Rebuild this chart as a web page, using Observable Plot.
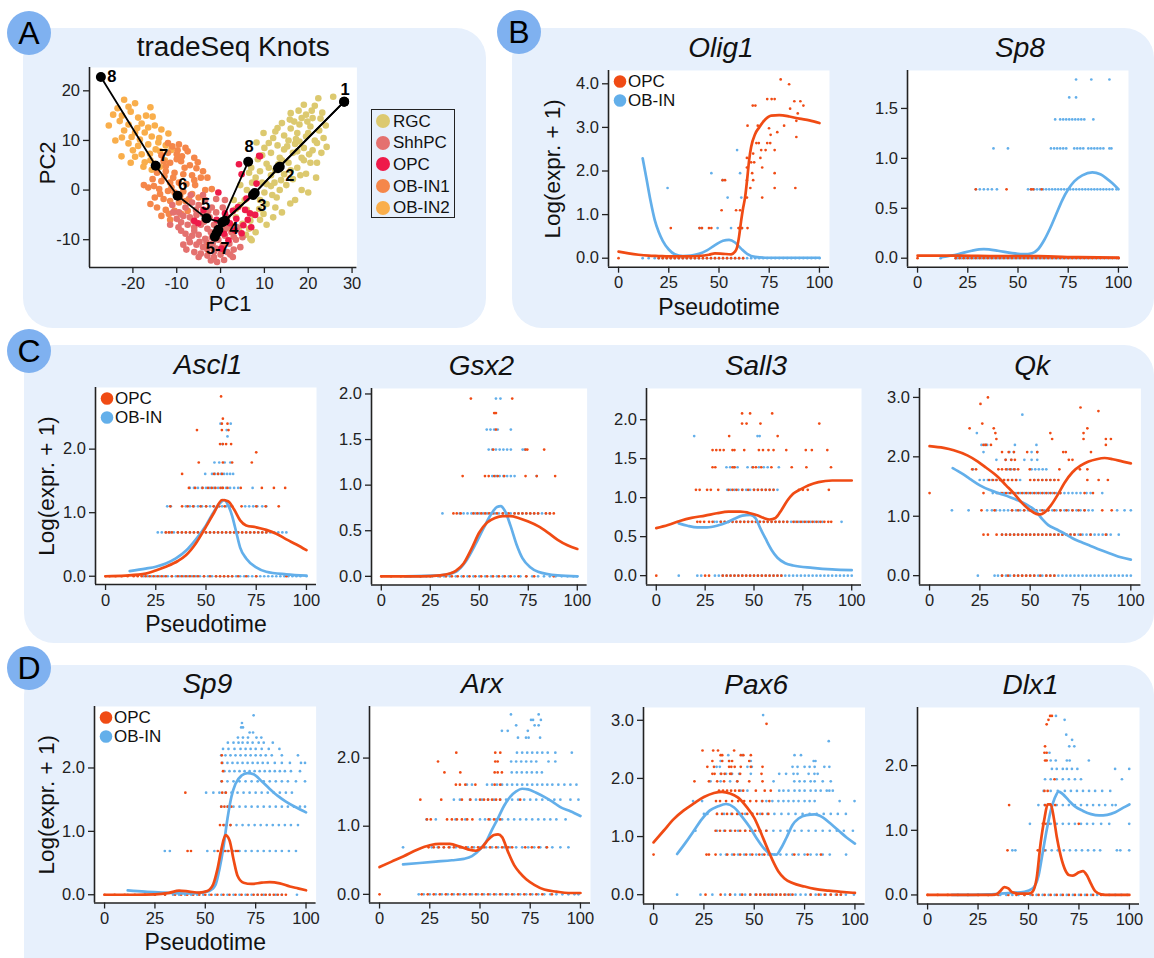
<!DOCTYPE html>
<html><head><meta charset="utf-8">
<script src="https://cdn.jsdelivr.net/npm/d3@7"></script>
<script src="https://cdn.jsdelivr.net/npm/@observablehq/plot@0.6"></script>
<style>
body{margin:0;background:#fff;font-family:"Liberation Sans",Arial,Helvetica,sans-serif;}
#root{position:relative;width:1154px;height:958px;overflow:hidden;background:#fff;}
.panel{position:absolute;background:#e7f0fc;border-radius:30px;}
.badge{position:absolute;width:44px;height:44px;border-radius:50%;background:#7fb1f0;color:#000;font-size:32px;text-align:center;line-height:45px;}
.legA{position:absolute;border:1.5px solid #222;box-sizing:border-box;}
.legA div{position:absolute;left:21px;font-size:17px;line-height:17px;color:#111;white-space:nowrap;}
.legA span{position:absolute;left:-17px;top:1.5px;width:14px;height:14px;border-radius:50%;}
</style></head><body><div id="root"></div><script>
const FONT = '"Liberation Sans", Arial, Helvetica, sans-serif';
const RED = "#F04B14", BLUE = "#63AFEA", INK = "#111", AX = "#222";

// ---------- Panel A: PCA with tradeSeq knots ----------
const cellTypes = ["RGC","ShhPC","OPC","OB-IN1","OB-IN2"];
const cellColors = ["#DCC96F","#E4716F","#EE1A4A","#F5874A","#F9AE4B"];
const pcaOBIN2 = [[-22,18.2],[-19.5,17.5],[-16,16.7],[-24.5,15.2],[-22.5,15],[-20.5,15.8],[-18.8,14.6],[-23,13.9],[-21,13.2],[-18,13.4],[-16.5,12.6],[-15,13],[-22,12],[-19.5,11.6],[-17.3,11.6],[-13.5,12.2],[-22.5,10.6],[-20.3,10.7],[-18.4,10.2],[-15.7,10.8],[-11.9,11.4],[-21,9.4],[-18.8,8.9],[-16.5,9.2],[-14.2,9.6],[-18,7.2],[-16.1,7.3],[-13.8,7.8],[-19.5,6.7],[-22.6,6.8],[-17.3,5.6],[-15,5.3],[-12.7,6],[-11.2,8.1],[-17.6,4.7],[-15.7,4.1],[-13.8,4.7],[-24,10],[-20,8],[-23.5,16.5],[-17,15],[-14,10.5],[-16,6],[-19,12.5],[-21,16.8],[-15.5,14.8],[-25.5,13],[-12.5,9],[-14.8,8.2],[-20.5,5.5]];
const pcaOBIN1 = [[-11,8.8],[-9.5,9.2],[-8,8.5],[-12,7.5],[-10,7.2],[-7.5,7.8],[-6,6.5],[-13,5.8],[-11.5,5.5],[-9,5.8],[-7,5],[-5.5,4.4],[-14.5,3.5],[-12.5,3.8],[-10.5,3.5],[-8.5,3.2],[-6.5,3],[-4.5,2.5],[-15.5,2.2],[-13.5,1.8],[-11.5,1.5],[-9.5,1.5],[-7.8,1.2],[-5.8,1],[-16.5,0.5],[-14,0.2],[-12,-0.2],[-10.5,-0.5],[-8.5,-0.3],[-6.5,-0.8],[-15,-1.5],[-13,-1.8],[-11.5,-2.2],[-9.5,-2.5],[-14.5,-3.5],[-12.5,-4],[-10.5,-4.2],[-13.5,-5.2],[-11.5,-6],[-3.5,0],[-2,0.2],[-16,-2.8],[-12,9.5],[-8.8,6.8],[-10.8,2.5],[-7.2,-1.8],[-9,-4.8],[-5,-1.5],[-13.5,7],[-17.5,1],[-4,3.8],[-10,6.2],[-8.2,4.5],[-12.5,4.8],[-6,2],[-11.2,0.5],[-9.2,-1.2],[-13.8,-0.8],[-7.5,-4.2],[-11.8,-4.8],[-15.2,0.8],[-5.2,5.6],[-9.8,8],[-3,2.5],[-8,-2.2],[-12.8,2.8]];
const pcaRGC = [[22.3,18.5],[25.7,18.8],[19.5,15.2],[21,14.5],[18,13.2],[20.5,12.8],[22.5,12],[16,12.4],[17.5,11.5],[19.5,10.8],[21.5,10],[24.2,8.7],[14.5,11],[15.5,10],[17,9.3],[19,8.5],[21,8],[23,7.5],[12,10.5],[13,9],[14.5,8.2],[16.5,7.5],[18.5,6.5],[20.5,5.5],[10,8.5],[11.5,7.5],[13.5,6.5],[15.5,5.5],[17.5,4.5],[19.5,3.3],[21.8,2.5],[8.5,6.2],[10.5,5.3],[12.5,4],[14.5,3.2],[16.5,2.2],[18.5,0],[20,-0.5],[6.5,3.5],[8,2.5],[9.5,1.5],[11.5,0.8],[13.5,0],[15.9,-2.7],[17,-2],[4.5,1],[6,0],[7.5,-1],[9,-2],[10.5,-2.8],[12.5,-3.5],[14,-4.5],[3,-2],[4.5,-3],[6,-4],[7.5,-5],[9,-6],[10.5,-7],[3.5,-5.5],[5,-6.8],[6.5,-7.8],[8,-8.5],[6.8,-9.8],[7.1,-10.1],[11.5,3],[13,12.5],[18.5,14.5],[16,15.5],[9.8,11.5],[17.2,10.3],[20,11.5],[23.5,10.5],[22,5.5],[12.3,1.5],[10,-0.5],[8.2,9.6],[14,6],[19,6],[15,1],[11,4.5],[17.5,7.8],[12.8,-1.5],[5.5,-2],[9,3.8],[16.8,13.8],[20.8,16],[22.8,14.4],[7,4.5],[9.5,7],[11,9.5],[12.5,11.8],[14,13.5],[15.8,14.2],[17.8,16],[19,17.2],[21.5,17],[23.2,15.6],[24,13],[22,9.5],[20.2,7.2],[18.2,3],[16,4],[13.8,2],[11.8,-1],[8.8,-3.8],[6.8,-6.2],[4.2,-8],[5.8,-9],[10.5,1.2],[13.2,5.2],[15.2,8.8],[18,9.8],[19.8,13.8],[7.2,1.5],[9.8,-4.8],[12,-5.5],[3.5,-3.8]];
const pcaShhPC = [[-11,-3],[-9.5,-4.5],[-8,-3.5],[-6.5,-2.5],[-5,-3],[-3.5,-2],[-2,-3.5],[-7,-5.5],[-5.5,-5],[-4,-4.8],[-2.5,-5.5],[-1,-4.5],[0.5,-3.5],[-9,-6.5],[-7.5,-7],[-6,-7.5],[-4.5,-7],[-3,-7.8],[-1.5,-7],[0,-6.5],[1.5,-5.5],[-8,-8.8],[-6.5,-9.2],[-5,-9],[-3.5,-9.8],[-2,-9.5],[-0.5,-10],[1,-9.2],[2.5,-8.5],[-7,-10.5],[-5.5,-11],[-4,-11.5],[-2.5,-11.2],[-1,-11.8],[0.5,-11.2],[2,-10.8],[3.5,-10],[-4.5,-12.8],[-3,-13.2],[-1.5,-13.5],[0,-13],[1.5,-12.5],[3,-12],[-2.2,-14.2],[0.8,-14.1],[2.8,-13.5],[-10,-5.8],[-11.5,-7],[-8.5,-11],[-6,-12.5],[4.5,-11.5],[5,-9.5],[-4,-1],[-1,-1.8],[1,-2],[2,-7.2],[3.8,-7.5],[-9,-8.2],[-6.8,-1],[-3,-12],[-5,-13.5],[-1.5,-12.4],[-8.5,-5.2],[-6.2,-6.2],[-3.8,-6.4],[-2.2,-8.5],[-4.8,-10.4],[-6,-8.2],[-7.8,-12],[-0.2,-8.2],[1.2,-7.8],[-1.8,-10.8],[-3.2,-10.5],[0.2,-12.2],[2.2,-13],[-0.8,-14.5],[-5.6,-4],[-2.8,-4.2],[-9.6,-7.5],[-10.8,-4.5],[-7.2,-9.8],[3,-9.4]];
const pcaOPC = [[9,6.8],[4.8,3.2],[8.2,1.3],[-0.5,-0.5],[5.9,-1.7],[4,-3.4],[1,-4.7],[-0.9,-6],[-6,-6.2],[-3.2,-5.7],[2.1,-6.7],[5.2,-7.1],[3.3,-8.1],[4.8,-8.7],[1.8,-10.1],[0.2,-11.8],[6.7,-4.7],[7.9,-5],[5.6,-4],[-3.9,-4],[-5.1,-6.7],[6.2,-6],[3.6,-5.8],[7,-7.5],[2.8,-4.2],[0.8,-8.8],[8.8,6.9],[4.2,5.2]];
const knotsOPC = [[28.2,17.8],[13.5,4.7],[7.8,-0.6],[1.0,-6.2],[-0.5,-8.0],[-0.9,-8.7],[-1.3,-9.4],[6.3,5.7]];
const knotsOBIN = [[28.2,17.8],[13.1,4.4],[7.4,-1.0],[0.4,-6.5],[-3.2,-5.7],[-9.8,-1.15],[-14.8,4.9],[-27.3,22.8]];
// label text, lineage, knot index, [dx,dy] offset in px
const knotLabels = [["1","OPC",0,[1,-12]],["2","OPC",1,[10,9]],["3","OPC",2,[7,13]],["4","OPC",3,[9,8]],["5-7","OPC",5,[1,15]],["8","OPC",7,[1,-15]],["5","OBIN",4,[-1,-14]],["6","OBIN",5,[5,-11]],["7","OBIN",6,[8,-10]],["8","OBIN",7,[11,0]]];
const pcaXTicks = [-20,-10,0,10,20,30], pcaYTicks = [-10,0,10,20];

// ---------- Gene panels: points as [log level, [pseudotimes]] ; curves as [pseudotime, value] ----------
const X_TICKS = [0,25,50,75,100];
const XDOM = [-5,105];

const olig1OPC = [[0,[0,20,22,24,26,28,30,32,34,36,38,40,42,44,46,48,50,52,54,56,58,60,62]],[0.69,[26,40.3,41.5,45,46.2,59.7,61.4,64.2]],[1.1,[51.3,58.5,60.5]],[1.39,[63.9,71.5]],[1.61,[65.6,77.7,88]],[1.79,[51.8,53,63.9,67]],[1.95,[66.5,77.7]],[2.08,[63.9,71.5]],[2.2,[66,67.5]],[2.3,[63.9,70.6]],[2.4,[67]],[2.48,[71,73.2,77.7]],[2.64,[68.6,69.8,74,75.5]],[2.78,[88.5]],[2.83,[75.7]],[2.89,[79]],[2.98,[74.9]],[3.04,[64.2,69.3,82.4]],[3.15,[88.5]],[3.32,[89.2]],[3.43,[85.4]],[3.5,[66.8,68.1,92]],[3.6,[87.5,90.5]],[3.65,[74,76.2,77.7]],[3.99,[84.9]],[4.1,[80.7]]];
const olig1OB = [[0,[12,15,18,20,22,24,26,28,30,32,34,36,38,40,42,44,46,48,50,52,54,56,58,60,62,64,66,68,70,72,74,76,78,80,82,84,86,88,90,92,94,96,98,100]],[0.69,[40.3,41.5,49.3,56,60,61.5]],[1.39,[54.3,61.1]],[1.61,[24.4]],[1.79,[51.8]],[1.95,[46.2,60.5]],[2.48,[59]]];
const olig1OPCcurve = [[0,0.15],[5,0.11],[10,0.08],[15,0.06],[20,0.05],[25,0.04],[30,0.04],[35,0.04],[40,0.05],[45,0.08],[48,0.11],[52,0.1],[56,0.09],[58,0.15],[59,0.25],[60,0.5],[61,0.85],[62,1.15],[63,1.4],[64,1.8],[65,2.25],[66,2.55],[68,2.85],[70,3.0],[73,3.18],[76,3.27],[80,3.28],[85,3.25],[90,3.2],[95,3.16],[100,3.1]];
const olig1OBcurve = [[12,2.29],[14,1.8],[16,1.3],[18,0.88],[20,0.6],[22,0.4],[25,0.2],[28,0.09],[32,0.05],[36,0.06],[40,0.1],[44,0.18],[48,0.3],[52,0.4],[55,0.42],[58,0.36],[61,0.22],[64,0.1],[68,0.03],[75,0.01],[100,0.01]];

const sp8OPC = [[0,[0,19,21,23,25,27,29,31,33,35,37,39,41,43,45,47,49,51,53,55,57,59,61,63,65,67,69,71,73,75,77,79,81,83,85,87,89,91,93,95,97,99,100]],[0.69,[29,44.3,56.5,57.5,61.8]]];
const sp8OB = [[0,[11.5,19,20,22,24,26,28,30,32,34,36,38,40,42,44,46,48,50,52,54,56,58,60,62,64,66,68,70,72,74,76,78,80,82,84,86,88,90,92,94,96,98,100]],[0.69,[29,31,33,35,37,39.5,55,56.5,58,59.5,61,62.5,64,65.5,67,68.5,70,71.5,73,74.5,76,77.5,79,80.5,82,83.5,85,86.5,88,89.5,91,92.5,94,95.5,97,99]],[1.1,[37.8,45,66.4,68,69.5,71,72.5,74,78,79.5,81,82.5,85,86.5,88,89.5,91,92.5,95.5,96.5]],[1.39,[68.5,71,72.5,74,75.5,77,78.5,80,81.5,83,87.5]],[1.61,[75.5,78.9]],[1.79,[78.9,86.5,95.5]]];
const sp8OPCcurve = [[0,0.025],[20,0.025],[40,0.02],[60,0.02],[80,0.01],[100,0.005]];
const sp8OBcurve = [[12,0.01],[20,0.04],[27,0.075],[33,0.09],[40,0.075],[47,0.05],[53,0.04],[57,0.05],[60,0.09],[63,0.18],[66,0.3],[69,0.44],[72,0.58],[75,0.69],[78,0.77],[82,0.83],[87,0.86],[91,0.84],[94,0.8],[97,0.75],[100,0.69]];

const ascl1OPC = [[0,[0,2,5,8,11,14,16,18,20,22,24,26,28,30,33,36,38,40,42,44,46,49,52,55,57,59,61,63,66,70,75,90]],[0.69,[30,31.5,33,36,38,40,42,44,46,48,50,52,54,56,58,60,62,64,66,68,70,72,74,76,78,80]],[1.1,[32.2,38.1,40.9,43.6,47.3,50.1,53.8,56.6,59.3,63,67.7,75,79.7,86.2]],[1.39,[41.5,44.6,48.3,51,52.9,54.7,57.2,58.4,60.7,67.3,77.8,83.8,89.4]],[1.61,[38.1,54,56,58]],[1.79,[46.4,58.4,63,72.8]],[1.95,[75]],[2.08,[57,58.4,60,62.5]],[2.3,[45.5,57.9,61.2]],[2.4,[57.9,60.7]],[2.48,[58.4]],[2.83,[57.5]]];
const ascl1OB = [[0,[19,21,23,25,27,29,31,33,35,37,39,41,43,45,47,49,51,53,55,57,59,61,63,65,67,69,71,73,75,77,79,81,83,85,87,89,91,93,95,97,100]],[0.69,[26,28,30,32,34,36,38,40,42,44,46,48,50,52,54,56,58,60,62,64,66,68,70,72,74,76,78,80,82,84,86,88,90]],[1.1,[30.7,32.5,40,42,44,46,48,50,52,54,56,58,60,62,69.5,71.5,73.5,75.5,78,80]],[1.39,[42,44,46,48,50,52,54,56,58,60,62,64,66,73.2]],[1.61,[49.6,53,54.5,56,57.5,59,60.5,62,63.5]],[1.79,[54.2,56.6,59.3,62.1]],[2.08,[58.2]],[2.2,[60.7]],[2.3,[60.3]],[2.4,[57.2,62.3]]];
const ascl1OPCcurve = [[0,0],[10,0.01],[20,0.04],[25,0.09],[30,0.15],[36,0.24],[40,0.33],[45,0.52],[50,0.78],[54,1.0],[58,1.2],[61,1.18],[64,1.05],[67,0.88],[70,0.8],[75,0.77],[80,0.73],[85,0.67],[90,0.58],[95,0.5],[100,0.41]];
const ascl1OBcurve = [[12,0.08],[20,0.12],[25,0.15],[30,0.2],[35,0.28],[40,0.4],[45,0.58],[50,0.8],[54,1.02],[57,1.15],[59,1.2],[61,1.12],[63,0.95],[65,0.7],[67,0.45],[70,0.28],[75,0.14],[80,0.07],[90,0.03],[100,0.01]];

const gsx2OPC = [[0,[0,5,10,15,20,25,30,33,36,39,42,45,48,51,54,57,60,63,66,70,74,78,88]],[0.69,[36.8,38.5,40.5,47,49,51,53,55,57,59,62,65,68,70,72,74,76,78,80,84,86,88]],[1.1,[41.5,52.9,54.8,57.6,59.4,62.7,73.6,79.3,88.7]],[1.39,[57.1,73.6,74.5,83.1]],[1.61,[58.5]],[1.79,[57.6,58.5]],[1.95,[45.7,66.8]]];
const gsx2OB = [[0,[20,23,26,29,32,35,38,41,44,47,50,53,56,59,62,65,68,71,74,77,80,83,86,89,92,95,98,100]],[0.69,[31.2,40,42,44,46,48,50,52,54,56,58,60,62,64,66,68,70,72,74,76,78,80,82,84,86]],[1.1,[56.6,58.5,60.4,62.3,64.2,66.1,68,79.3]],[1.39,[54.8,56.6,58.5,60.4,62.3,64.2,66.1,72.1,73.2]],[1.61,[53.8,55.7,57.6,59.4,66.1]],[1.95,[58.5,60.8]]];
const gsx2OPCcurve = [[0,0],[20,0],[30,0.01],[35,0.03],[38,0.06],[42,0.14],[46,0.3],[50,0.48],[54,0.59],[58,0.64],[62,0.66],[66,0.66],[70,0.64],[75,0.6],[80,0.55],[85,0.48],[90,0.4],[95,0.34],[100,0.3]];
const gsx2OBcurve = [[12,0],[30,0.01],[38,0.05],[43,0.16],[48,0.35],[52,0.52],[56,0.68],[59,0.76],[61,0.77],[63,0.72],[66,0.55],[69,0.35],[72,0.2],[76,0.1],[80,0.05],[90,0.01],[100,0]];

const sall3OPC = [[0,[0,25,27,34,36,38,40,42,44,46,48,50,52,54,56,58,60,62,64]],[0.69,[21,22.5,24.5,27,28.8,33,35,37,39,41,43,45,47,49,51,53,55,57,59,61,63,65,67,70.2,72,74,76,78,80,82,84,86,88,89.5]],[1.1,[20.3,22.2,26,27.9,31.7,37,39,41,44,47,50,52,54,56,58,60,73,75,77.5,88.3]],[1.39,[28.8,30.2,39,40.1,49.5,51,53.7,58.9,69.3,76.8,89.4]],[1.61,[28.8,30.7,32.6,34.5,39,40,45,52.5,54.6,57.4,60,66.5,76.5,79.6,87.5]],[1.79,[37.3,62.1]],[1.95,[43.9,46.2,53.3,83.4]],[2.08,[43.9,48,59.3]]];
const sall3OB = [[0,[11.5,21,23,30,32,34,36,38,40,42,44,46,48,50,52,54,56,58,60,62,64,66,68,70,72,74,76,78,80,82,84,86,88,90,92,94,96,98,100]],[0.69,[29.7,31,33,35,37,39,41,43,45,47,49,51,53,55,57,59,61,63,65,67,69,71,73,75,77,79,81,83,85,94.8]],[1.1,[36.3,38,40,42,44,46,48,50,52,54,56,58,60,62]],[1.39,[35.9,37.8,39.7,41.6,46.7,49.1,52.5,55,57,62.7]],[1.79,[19.4,51.8,52.9]]];
const sall3OPCcurve = [[0,0.61],[6,0.65],[12,0.7],[18,0.74],[25,0.77],[31,0.8],[37,0.82],[43,0.82],[48,0.8],[52,0.77],[55,0.74],[58,0.72],[61,0.74],[64,0.84],[67,0.96],[70,1.05],[74,1.11],[78,1.16],[83,1.2],[90,1.22],[100,1.22]];
const sall3OBcurve = [[11.5,0.67],[16,0.64],[21,0.62],[26,0.62],[31,0.64],[36,0.68],[40,0.73],[44,0.77],[48,0.78],[51,0.73],[53,0.62],[56,0.47],[59,0.33],[62,0.23],[66,0.16],[70,0.13],[80,0.1],[90,0.08],[100,0.07]];

const qkOPC = [[0,[36,39,42,44,46,48,50,52,55,58,60,62]],[0.69,[26.8,29,33.3,36,38,40,42,44,46,48,50,52,54,56,58,60,62,64,66,68,70,72,75,80,87.6]],[1.1,[25.8,32.3,41,44,47,50,53,56,59,62,65,68,71,74,77,85.8,90.5]],[1.39,[0,26.8,34,36,38,40,42,44,46,48,50,52,54,56,58,60,62,65,77,81.2]],[1.61,[29.6,31.5,33.3,35.2,37,39,41,43,50,52,54,56,58,60,62,64,78.4,84,88.6]],[1.79,[21.2,23.1,34.2,36,38,40,42,44,49.8,64.5,74.7,78.4]],[1.95,[37.8,40.6,42.4,69.2,71]],[2.08,[36,39.3,41.9,48.5,53.5,66.4,67.7,80.2]],[2.2,[26.8,28,30.5,87.6]],[2.3,[33.2,60.9,76.5,87.6,90.1]],[2.4,[32.7,60,76.5]],[2.48,[19.9,31.9,78.4]],[2.56,[26.2]],[2.77,[83.9]],[2.83,[75]],[2.89,[25.3]],[3.0,[29]]];
const qkOB = [[0,[24,32.3,34,36,38,40,42,44,46,48,50,52,54,56,58,60,62,64,66,68,70,72,74,76,78,80,82,84,86,88,90,92,94,96,98,100]],[0.69,[36,38,40,42,44,46,48,50,52,54,56,58,60,62,64,66,68,70,72,74,76,78,80,82,84,86,88,90,94]],[1.1,[11.1,19.4,28.6,31,33,35,37,39,41,43,45,47,49,51,53,55,57,59,61,63,65,67,69,71,73,75,77,79,81,93.2,96.9,100]],[1.39,[31.4,33.3,35.2,37,39,41,43,45,47,49,51,53,55,57,59,61,63,65,67,69,71,73,75,78,80,85.8]],[1.61,[24.9,27,29,31,33,35,37,39,41,43,45,52,54,56,58,60,62]],[1.79,[21.6,38.7,40.6,42.4,50.7,52.5,54.3,56.2,58]],[1.95,[33.2,37.8,40.6,47.1,50.7,53.5]],[2.08,[26.8,39.7,41.9,50.7,53.5]],[2.2,[25.8,27.5,28.6,42.4,53.1]],[2.4,[23.5]],[2.71,[46.1]]];
const qkOPCcurve = [[0,2.18],[7,2.15],[12,2.11],[19,2.02],[24,1.92],[28,1.82],[34,1.66],[38,1.52],[42,1.38],[46,1.22],[50,1.1],[53,1.04],[55,1.03],[57,1.06],[60,1.17],[64,1.38],[67,1.56],[71,1.74],[75,1.85],[79,1.92],[83,1.96],[87,1.98],[91,1.96],[96,1.92],[100,1.89]];
const qkOBcurve = [[11.5,1.81],[16,1.72],[20,1.63],[25,1.52],[30,1.44],[35,1.38],[40,1.32],[45,1.25],[50,1.16],[53,1.08],[56,0.95],[59,0.85],[63,0.78],[67,0.71],[71,0.63],[75,0.57],[80,0.5],[85,0.43],[90,0.37],[95,0.31],[100,0.27]];

const sp9OPC = [[0,[0,5,10,15,20,25,30,35,38,41,44,47,50,53,56,59,62,65,68,71,74,76,78,80,82,84,86,88,90]],[0.69,[41.2,42.9,56.2,58,59.8,61.5,63.3,65.2,66.2]],[1.1,[57.3,59,60.6,62.5]],[1.39,[57.9,59.5,61.2,62.9]],[1.61,[40.1,58.4,60.2]],[1.79,[58.2]],[1.95,[58.8]],[2.08,[58.2]],[2.2,[58.2]]];
const sp9OB = [[0,[11.5,20,25,30,34,37,40,43,46,49,52,55,58,61,64,67,70,73,76,79,82,85,88,95.5]],[0.69,[29.9,32.4,51,54.5,58,61,64,67,70,73,76,79,82,85,88,91.5,95]],[1.1,[59.5,62.5,65.5,68.5,71.5,74.5,77.5,80.5,83.5,86.5,89.5,92.5,96]],[1.39,[58,61,64,67,70,73,76,79,82,85,88,91,94,97,99.5]],[1.61,[50.4,54,57,60,63,66,69,72,75,78,81,84,87,90,93]],[1.79,[58,61,64,67,70,73,76,79,82,85,88,91,95,99.5]],[1.95,[59.5,62,64.5,67,69.5,72,74.5,77,79.5,82,84.5,87,89.5,92.5,97]],[2.08,[58.5,61,63.5,66,68.5,71,73.5,76,78.5,81,84.5,88,92,97.5,99.5]],[2.2,[57.9,60,62.5,65,67.5,70,72.5,75,77.5,80,83,88,96]],[2.3,[58.8,61.5,64.5,67.5,70,72.5,75,78,81.5,86.8]],[2.4,[61.2,64,66.5,68.5,71,73.5,76.5,79,83.5]],[2.48,[66.2,68.7,71.2,75.4,77.8]],[2.56,[72,73.7]],[2.64,[67.8,68.7]],[2.71,[68.2]],[2.83,[74]]];
const sp9OPCcurve = [[0,0],[15,0],[25,0.005],[32,0.03],[37,0.065],[42,0.05],[47,0.035],[51,0.06],[54,0.17],[56,0.4],[58,0.72],[60,0.94],[62,0.86],[64,0.56],[66,0.3],[69,0.19],[73,0.17],[78,0.19],[82,0.2],[87,0.18],[92,0.13],[96,0.1],[100,0.07]];
const sp9OBcurve = [[11.5,0.07],[20,0.05],[30,0.035],[40,0.02],[47,0.03],[52,0.06],[55,0.15],[57,0.4],[59,0.75],[61,1.2],[63,1.55],[65,1.75],[68,1.88],[71,1.92],[74,1.9],[78,1.79],[82,1.67],[86,1.56],[90,1.47],[95,1.38],[100,1.3]];

const arxOPC = [[0,[0,21,24,27,30,33,36,39,42,45,48,51,54,57,60,63,66,69,72,75,78,81,85.8]],[0.69,[24.4,27,29.5,32,34.5,37,40,43,46,49,52,55,58,61,64,66,72.5,75.8,79.2,83.3]],[1.1,[23.6,25.5,33.6,36,38.5,41,43.6,46.2,54.3,57,60]],[1.39,[20.3,30.7,41,45.2,50,52,54,56,58,60,70]],[1.61,[38,40,42.7,47.7,57.3,60.1]],[1.79,[32.3,40.2,57.3,58.8,60.9]],[1.95,[29.1,57.6,58.8]],[2.08,[38.2,57.6,60.1]]];
const arxOB = [[0,[19.5,22,25,28,31,34,37,40,43,46,49,52,55,58,61,64,67,70,73,76,79,82,85,88,91,94,97,99]],[0.69,[11.7,26,29,32,35,38,41,44,47,50,53,56,59,62,65,68,71,74,77,80,83,86,90,94]],[1.1,[23.4,28,37.8,42.7,50,52.5,55,58,61,64,67,70,73,76,79,82,85,88,92.6]],[1.39,[37,40,45,48,51,54,57,60,63,66,69,72,75,78,81,84,87,90,95,99]],[1.61,[43.5,46,53.5,56,58.5,61,63.5,66,68.5,71,73.5,76,78.5,81,83.5,86,89,92,95,98]],[1.79,[65.8,68.3,70.8,73.3,75.8,78.3,80.8]],[1.95,[65.5,68,70.5,73,75.5,78,84.1,87.5]],[2.08,[68.4,71,73.5,76,78.5,81,83.7,87.5,95.7]],[2.3,[68.9,72.9,74.2,79.9]],[2.4,[60.9,63.8,73.8]],[2.48,[68,77.2,79.2]],[2.56,[75.4,76.4,80.3]],[2.64,[65.4,79.2]]];
const arxOPCcurve = [[0,0.4],[6,0.48],[12,0.56],[19,0.66],[25,0.72],[30,0.74],[35,0.74],[40,0.7],[44,0.66],[48,0.64],[51,0.69],[54,0.8],[57,0.87],[59,0.88],[61,0.84],[64,0.62],[67,0.43],[70,0.31],[73,0.22],[77,0.14],[82,0.07],[88,0.04],[94,0.02],[100,0.02]];
const arxOBcurve = [[11.7,0.44],[20,0.46],[28,0.48],[36,0.5],[42,0.52],[46,0.56],[50,0.66],[53,0.77],[56,0.95],[59,1.12],[62,1.3],[65,1.43],[68,1.51],[71,1.55],[74,1.54],[78,1.49],[82,1.43],[86,1.36],[90,1.28],[95,1.22],[100,1.15]];

const pax6OPC = [[0,[25.8,33.3,38,44,48,51,53,55,57,59,61,63,65,67,69,78,82,85,88,91,93]],[0.69,[0,26.3,27.5,30.8,36.6,40,43,46,49,52.5,55,69.9,76.5,83.1]],[1.1,[30.8,33,35.5,38,40.5,43,45.5,48,50.5,53,56]],[1.39,[31.5,34,36.5,39,41.5,44,46.5,49,51.5,54,57]],[1.61,[31,33,36,39,42,45,48,51,54,57.5]],[1.79,[32.5,34.5,36.5,38.5,40.5,42.5,44.5,50.8,55.2,58.2]],[1.95,[20.3,27.5,31.6,35,41.6,47.5,54.1]],[2.08,[29.2,30.3,33.6,35.3,38,38.6,43,53.6]],[2.2,[26.7,30,37.5,38.6,40.3,43.3,48.3,54.1]],[2.3,[29.2,34.1,37.5,39,47.5]],[2.4,[33.3,34.1,43.3,44.6,48.3]],[2.48,[24.3,29.6,32,40]],[2.94,[56.1]]];
const pax6OB = [[0,[11.7,23.3,29.2,35.5,38,40.5,43,45.5,48,50.5,53,55.5,58,60.5,63,65.5,68,70.5,73,75.5,78,80.5,83,85.5,88,90.5,93,95.5,99.5]],[0.69,[33.3,36,39,42,45,48,51,54,57,60,63,66,69,72,75,78,81,84,87.5,95.6]],[1.1,[20.8,31.5,35,38.5,42,45.5,49,52.5,56,59.5,63,66.5,70,73.5,77,80.5,84,87.5,91,94.5,99]],[1.39,[25,26.7,31.5,35,38.5,42,45.5,49,53,56.5,60,63.5,67,70.5,74,77.5,81,84.5,88,91.5,95.5]],[1.61,[19.6,24.1,53.8,56,59,62,64.5,67,69.5,72,75,77.5,80,92.4,99.8]],[1.79,[43.3,46.6,62.4,64.5,67,70,72.5,75,78,80.5,83,86,87.3,89]],[1.95,[28.3,33.3,38,41.5,59.6,69.9,72.5,75,78,80,84,88]],[2.08,[33.3,36,39,42.5,48.3,62.4,65.8,69.5,71.5,77,79.9,81.5]],[2.2,[31.3,32.9,46.6,48.8,69,71.5,75,77.5,80,84.8,87.3]],[2.3,[33.3,37.5,48.3,79.5,80.4]],[2.4,[37.1,44.1,70,73.2]],[2.64,[87]],[3.09,[54.4]]];
const pax6OPCcurve = [[0,0.9],[5,1.1],[10,1.3],[15,1.45],[20,1.57],[25,1.68],[30,1.75],[34,1.77],[38,1.74],[42,1.67],[46,1.52],[50,1.32],[53,1.09],[56,0.84],[59,0.6],[62,0.4],[65,0.28],[69,0.2],[75,0.14],[80,0.1],[87,0.07],[93,0.05],[100,0.03]];
const pax6OBcurve = [[11.7,0.7],[16,0.9],[20,1.1],[24,1.3],[28,1.45],[32,1.52],[36,1.56],[40,1.5],[44,1.34],[48,1.15],[51,0.98],[55,0.79],[58,0.7],[61,0.69],[63,0.78],[66,0.98],[69,1.2],[72,1.31],[76,1.37],[80,1.38],[84,1.33],[88,1.22],[92,1.1],[96,0.98],[100,0.88]];

const dlx1OPC = [[0,[0,5,10,15,20,25,30,35,40,44,48,52,55,58,61,64,67,70,73,76,79,82,86]],[0.69,[39.6,54.6,57.9]],[1.1,[57.1,58.7,60,74.9]],[1.39,[40.4,58.2,63.2]],[1.61,[57.9,59.5]],[1.79,[62.9]],[2.08,[58.2,59]],[2.2,[57.9,59]],[2.3,[58.2]],[2.64,[59]],[2.71,[59.9]],[2.77,[60.7,61.6]]];
const dlx1OB = [[0,[20,25,30,33,36,39,42,45,48,51,54,57,60,63,66,69,72,75,78,81,84,87,90,93,96,99]],[0.69,[42,43.5,55.5,58.5,61.5,64.5,67.5,70.5,73.5,76.5,79.5,82.5,85.5,93.8,95.5,99.9]],[1.1,[50.7,57.5,61,64,67,70,73,76,79,82,86,90,99.9]],[1.39,[54.9,58,61,64,67,70,73,76,79,82,85,88,91.5,93.2]],[1.61,[57.5,61,64.5,68,71,74,77,80,83,86.5,90.5]],[1.79,[58.2,61,64,67,70,73,76,96.3]],[1.95,[61.6,64,67,69,71.5,74.2,92.9,99.9]],[2.08,[61,63.5,69,70.4,79.9]],[2.2,[60.4]],[2.3,[70.2,72.7]],[2.4,[71.6]],[2.48,[68.7]],[2.71,[67.9]],[2.77,[63.6]]];
const dlx1OPCcurve = [[0,0],[30,0],[34,0.01],[36,0.06],[38,0.12],[40,0.1],[42,0.04],[45,0.02],[50,0.02],[52,0.05],[54,0.25],[56,0.8],[58,1.2],[59.5,1.4],[61,1.4],[62.5,1.2],[64,0.9],[66,0.6],[68,0.4],[70,0.31],[72,0.3],[75,0.35],[77,0.37],[79,0.3],[81,0.17],[83,0.06],[86,0.01],[90,0],[100,0]];
const dlx1OBcurve = [[12,0],[30,0.01],[40,0.03],[48,0.05],[52,0.1],[55,0.3],[57,0.65],[59,1.0],[61,1.3],[63,1.5],[65,1.6],[67,1.56],[70,1.46],[73,1.37],[77,1.3],[81,1.25],[85,1.23],[89,1.24],[93,1.28],[97,1.35],[100,1.4]];

const genes = [
  {name:"Olig1", frame:[607.5,70,221,196.7], yDomain:[-0.206,4.305], yTicks:[0,1,2,3,4], opc:olig1OPC, ob:olig1OB, opcCurve:olig1OPCcurve, obCurve:olig1OBcurve, legend:true, xlab:true, ylab:-56},
  {name:"Sp8", frame:[907,69.5,221,196.7], yDomain:[-0.09,1.88], yTicks:[0,0.5,1,1.5], opc:sp8OPC, ob:sp8OB, opcCurve:sp8OPCcurve, obCurve:sp8OBcurve},
  {name:"Ascl1", frame:[95,387,221,197], yDomain:[-0.13,2.97], yTicks:[0,1,2], opc:ascl1OPC, ob:ascl1OB, opcCurve:ascl1OPCcurve, obCurve:ascl1OBcurve, legend:true, xlab:true, ylab:-49},
  {name:"Gsx2", frame:[371,387.5,215.6,196.5], yDomain:[-0.095,2.06], yTicks:[0,0.5,1,1.5,2], opc:gsx2OPC, ob:gsx2OB, opcCurve:gsx2OPCcurve, obCurve:gsx2OBcurve},
  {name:"Sall3", frame:[646,388,215,196.5], yDomain:[-0.12,2.40], yTicks:[0,0.5,1,1.5,2], opc:sall3OPC, ob:sall3OB, opcCurve:sall3OPCcurve, obCurve:sall3OBcurve},
  {name:"Qk", frame:[918.6,388,221.4,196.5], yDomain:[-0.157,3.15], yTicks:[0,1,2,3], opc:qkOPC, ob:qkOB, opcCurve:qkOPCcurve, obCurve:qkOBcurve},
  {name:"Sp9", frame:[93.6,706,221.6,196.5], yDomain:[-0.13,2.97], yTicks:[0,1,2], opc:sp9OPC, ob:sp9OB, opcCurve:sp9OPCcurve, obCurve:sp9OBcurve, legend:true, xlab:true, ylab:-48},
  {name:"Arx", frame:[369.2,706,221,196.5], yDomain:[-0.127,2.757], yTicks:[0,1,2], opc:arxOPC, ob:arxOB, opcCurve:arxOPCcurve, obCurve:arxOBcurve},
  {name:"Pax6", frame:[643.3,706.5,221.5,196.5], yDomain:[-0.16,3.22], yTicks:[0,1,2,3], opc:pax6OPC, ob:pax6OB, opcCurve:pax6OPCcurve, obCurve:pax6OBcurve},
  {name:"Dlx1", frame:[916.7,706.5,222,196.5], yDomain:[-0.14,2.90], yTicks:[0,1,2], opc:dlx1OPC, ob:dlx1OB, opcCurve:dlx1OPCcurve, obCurve:dlx1OBcurve}
];

// ---------- layout helpers ----------
const root = document.getElementById("root");
function box(cls, l, t, w, h, html){ const d=document.createElement("div"); d.className=cls; Object.assign(d.style,{left:l+"px",top:t+"px",width:w+"px",height:h+"px"}); if(html!==undefined) d.innerHTML=html; root.appendChild(d); return d; }
function place(el, l, t){ el.style.position="absolute"; el.style.left=l+"px"; el.style.top=t+"px"; root.appendChild(el); }
const levelRows = levels => levels.flatMap(([v, ts]) => ts.map(t => ({t, v})));
const pairRows = pairs => pairs.map(([t, v]) => ({t, v}));

// panel backgrounds and badges
box("panel", 23, 28, 463, 300);
box("panel", 512, 28, 642, 300);
box("panel", 24, 345, 1130, 298);
box("panel", 24, 665, 1130, 330);
box("badge", 7, 11, 44, 44, "A");
box("badge", 497, 10, 44, 44, "B");
box("badge", 7, 329, 44, 44, "C");
box("badge", 7, 646, 44, 44, "D");

// ---------- Panel A ----------
{
  const ML=70, MT=48, MR=10, MB=52;
  const fl=89.3, ft=66.7, fw=267.4, fh=200;
  const groups = [pcaOBIN2, pcaOBIN1, pcaRGC, pcaShhPC, pcaOPC];
  const groupColor = [cellColors[4], cellColors[3], cellColors[0], cellColors[1], cellColors[2]];
  const knotSets = {OPC: knotsOPC, OBIN: knotsOBIN};
  const marks = [Plot.frame({fill:"white", stroke:"none"})];
  groups.forEach((g, i) => marks.push(Plot.dot(g, {x:d=>d[0], y:d=>d[1], r:3.3, fill:groupColor[i], stroke:"none"})));
  marks.push(Plot.line(knotsOBIN, {x:d=>d[0], y:d=>d[1], stroke:"#000", strokeWidth:1.8}));
  marks.push(Plot.line(knotsOPC, {x:d=>d[0], y:d=>d[1], stroke:"#000", strokeWidth:1.8}));
  marks.push(Plot.dot(knotsOBIN, {x:d=>d[0], y:d=>d[1], r:5, fill:"#000"}));
  marks.push(Plot.dot(knotsOPC, {x:d=>d[0], y:d=>d[1], r:5, fill:"#000"}));
  knotLabels.forEach(([txt, lin, idx, [dx, dy]]) => {
    marks.push(Plot.text([knotSets[lin][idx]], {x:d=>d[0], y:d=>d[1], text:()=>txt, dx, dy, fontSize:16.5, fontWeight:"bold", fill:"#000", textAnchor:"middle", lineAnchor:"middle"}));
  });
  marks.push(
    Plot.ruleX([-29.9], {stroke:AX, strokeWidth:1.6}),
    Plot.ruleY([-15.6], {stroke:AX, strokeWidth:1.6}),
    Plot.axisX({ticks:pcaXTicks, tickSize:6, tickPadding:3.5, fontSize:16.5, label:null, tickFormat:d=>String(d), strokeWidth:1.3}),
    Plot.axisY({ticks:pcaYTicks, tickSize:6, tickPadding:3.5, fontSize:16.5, label:null, tickFormat:d=>String(d), strokeWidth:1.3}),
    Plot.text(["tradeSeq Knots"], {text:d=>d, frameAnchor:"top", dx:10, dy:-20, textAnchor:"middle", lineAnchor:"middle", fontSize:28, fill:INK}),
    Plot.text(["PC1"], {text:d=>d, frameAnchor:"bottom", dx:7, dy:36.5, textAnchor:"middle", lineAnchor:"middle", fontSize:22, fill:INK}),
    Plot.text(["PC2"], {text:d=>d, frameAnchor:"left", dx:-42, dy:-4.7, rotate:-90, textAnchor:"middle", lineAnchor:"middle", fontSize:22, fill:INK})
  );
  const svg = Plot.plot({
    width: ML+fw+MR, height: MT+fh+MB,
    marginLeft: ML, marginTop: MT, marginRight: MR, marginBottom: MB,
    x: {domain:[-29.9, 31.1]}, y: {domain:[-15.6, 24.7]},
    style: {background:"transparent", fontFamily:FONT, color:AX, overflow:"visible"},
    marks
  });
  place(svg, fl-ML, ft-MT);

  // legend box
  const leg = box("legA", 371, 109, 84, 109);
  cellTypes.forEach((name, i) => {
    const row = document.createElement("div");
    row.style.top = (2.5 + i*21.7) + "px";
    row.innerHTML = `<span style="background:${cellColors[i]}"></span>${name}`;
    leg.appendChild(row);
  });
}

// ---------- Gene panels ----------
function genePlot(g){
  const ML=75, MT=48, MR=10, MB=58;
  const [fl, ft, fw, fh] = g.frame;
  const marks = [
    Plot.frame({fill:"white", stroke:"none"}),
    Plot.dot(levelRows(g.ob), {x:"t", y:"v", r:1.35, fill:BLUE, stroke:"none"}),
    Plot.dot(levelRows(g.opc), {x:"t", y:"v", r:1.35, fill:RED, stroke:"none"}),
    Plot.line(pairRows(g.obCurve), {x:"t", y:"v", stroke:BLUE, strokeWidth:2.7, curve:"monotone-x"}),
    Plot.line(pairRows(g.opcCurve), {x:"t", y:"v", stroke:RED, strokeWidth:2.7, curve:"monotone-x"}),
    Plot.ruleX([XDOM[0]], {stroke:AX, strokeWidth:1.6}),
    Plot.ruleY([g.yDomain[0]], {stroke:AX, strokeWidth:1.6}),
    Plot.axisX({ticks:X_TICKS, tickSize:6, tickPadding:3.5, fontSize:16.5, label:null, tickFormat:d=>String(d), strokeWidth:1.3}),
    Plot.axisY({ticks:g.yTicks, tickSize:6, tickPadding:3.5, fontSize:16.5, label:null, tickFormat:d3.format(".1f"), strokeWidth:1.3}),
    Plot.text([g.name], {text:d=>d, frameAnchor:"top", dx:2, dy:-22, textAnchor:"middle", lineAnchor:"middle", fontSize:28, fontStyle:"italic", fill:INK})
  ];
  if (g.legend) {
    marks.push(
      Plot.dot([0], {frameAnchor:"top-left", dx:11.5, dy:11, r:6.3, fill:RED}),
      Plot.dot([0], {frameAnchor:"top-left", dx:11.5, dy:30, r:6.3, fill:BLUE}),
      Plot.text(["OPC"], {text:d=>d, frameAnchor:"top-left", dx:19.5, dy:11, textAnchor:"start", lineAnchor:"middle", fontSize:17, fill:INK}),
      Plot.text(["OB-IN"], {text:d=>d, frameAnchor:"top-left", dx:19.5, dy:30, textAnchor:"start", lineAnchor:"middle", fontSize:17, fill:INK})
    );
  }
  if (g.xlab) marks.push(Plot.text(["Pseudotime"], {text:d=>d, frameAnchor:"bottom", dx:0, dy:40, textAnchor:"middle", lineAnchor:"middle", fontSize:23, fill:INK}));
  if (g.ylab) marks.push(Plot.text(["Log(expr. + 1)"], {text:d=>d, frameAnchor:"left", dx:g.ylab, rotate:-90, textAnchor:"middle", lineAnchor:"middle", fontSize:22.5, fill:INK}));
  const svg = Plot.plot({
    width: ML+fw+MR, height: MT+fh+MB,
    marginLeft: ML, marginTop: MT, marginRight: MR, marginBottom: MB,
    x: {domain: XDOM}, y: {domain: g.yDomain},
    style: {background:"transparent", fontFamily:FONT, color:AX, overflow:"visible"},
    marks
  });
  place(svg, fl-ML, ft-MT);
}
genes.forEach(genePlot);
</script></body></html>
